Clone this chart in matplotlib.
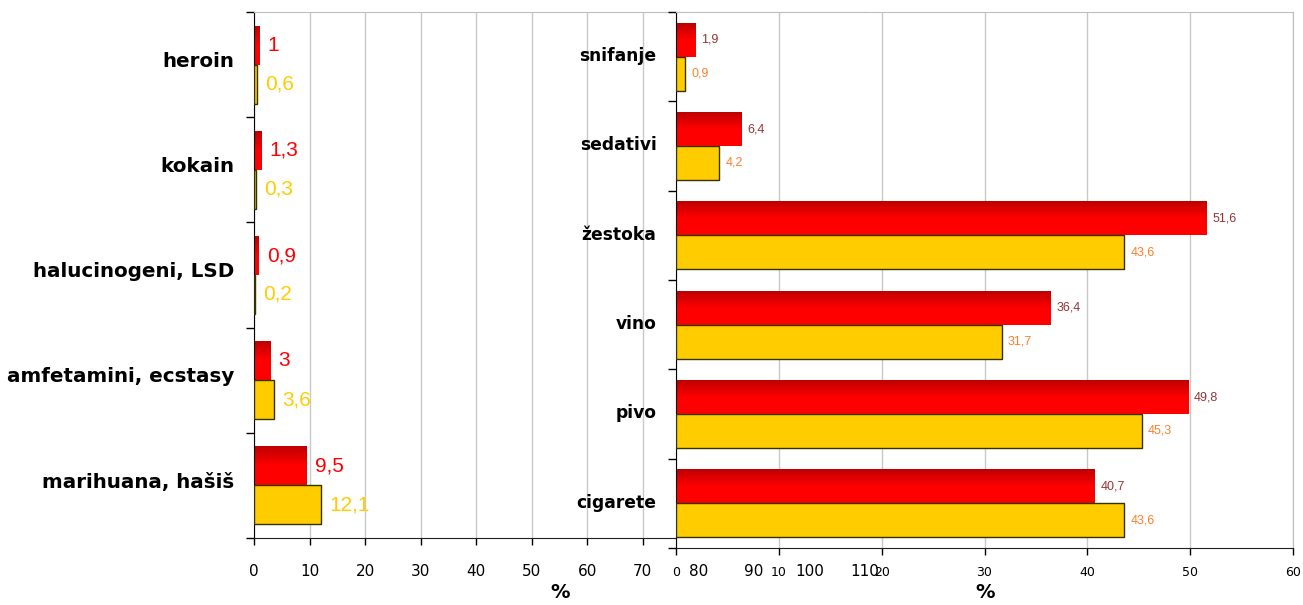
import numpy as np
import matplotlib
matplotlib.use("Agg")
import matplotlib.pyplot as plt
from matplotlib.colors import LinearSegmentedColormap

# left chart: drugs
drug_cats = ["heroin", "kokain", "halucinogeni, LSD", "amfetamini, ecstasy", "marihuana, hašiš"]
drug_red = [1, 1.3, 0.9, 3, 9.5]
drug_yellow = [0.6, 0.3, 0.2, 3.6, 12.1]

# right chart: legal substances
legal_cats = ["snifanje", "sedativi", "žestoka", "vino", "pivo", "cigarete"]
legal_red = [1.9, 6.4, 51.6, 36.4, 49.8, 40.7]
legal_yellow = [0.9, 4.2, 43.6, 31.7, 45.3, 43.6]

left_ticks = list(range(0, 111, 10))
right_ticks = list(range(0, 61, 10))

RED_TOP = "#BE0000"
RED = "#FF0000"
YELLOW = "#FFCC00"
YEDGE = "#333300"
GRID = "#C8C8C8"

red_cmap = LinearSegmentedColormap.from_list("redgrad", [(0, RED_TOP), (0.5, RED), (1, RED)])

W, H = 1303, 605
fig = plt.figure(figsize=(W / 100, H / 100), dpi=100)
plt.rcParams['font.family'] = ['DejaVu Sans']


def fmt(v):
    return f"{v:g}".replace(".", ",")


def gradient_bars(ax, bars):
    grad = np.linspace(0, 1, 100).reshape(-1, 1)
    for b in bars:
        x0, y0 = b.get_x(), b.get_y()
        w, h = b.get_width(), b.get_height()
        im = ax.imshow(grad, extent=[x0, x0 + w, y0 + h, y0], origin="upper",
                       aspect="auto", cmap=red_cmap, zorder=2, interpolation="bilinear")
        im.set_clip_path(b)


def draw(ax, cats, red, yellow, xmax, ticks, h, lab_size, lab_cols, lab_off,
         cat_size, tick_size, tick_pad, cat_shift):
    n = len(cats)
    y = np.arange(n)
    rb = ax.barh(y - h / 2, red, height=h, color=RED, edgecolor="none", zorder=2)
    ax.barh(y + h / 2, yellow, height=h, color=YELLOW, edgecolor=YEDGE, linewidth=1, zorder=3)
    gradient_bars(ax, rb)
    ax.set_xlim(0, xmax)
    ax.set_ylim(n - 0.5, -0.5)
    for i in range(n):
        ax.annotate(fmt(red[i]), (red[i], y[i] - h / 2), xytext=(lab_off, 0),
                    textcoords="offset pixels", va="center", ha="left",
                    color=lab_cols[0], fontsize=lab_size, family="Liberation Sans", zorder=5)
        ax.annotate(fmt(yellow[i]), (yellow[i], y[i] + h / 2), xytext=(lab_off, 0),
                    textcoords="offset pixels", va="center", ha="left",
                    color=lab_cols[1], fontsize=lab_size, family="Liberation Sans", zorder=5)
    ax.set_xticks(ticks)
    ax.set_xticklabels([str(t) for t in ticks], fontsize=tick_size)
    ax.tick_params(axis="x", direction="out", length=5, width=1, pad=tick_pad, colors="black")
    ax.set_yticks(np.arange(n + 1) - 0.5)
    ax.set_yticklabels([])
    ax.set_yticks(y - cat_shift, minor=True)
    ax.set_yticklabels(cats, minor=True, fontsize=cat_size, fontweight="bold")
    ax.tick_params(axis="y", which="major", direction="out", length=6, width=1)
    ax.tick_params(axis="y", which="minor", length=0, pad=14)
    ax.grid(axis="x", color=GRID, linewidth=1, zorder=0)
    ax.set_axisbelow(True)
    ax.spines["left"].set_color("black")
    ax.spines["bottom"].set_color("#202020")
    ax.spines["top"].set_color("#BFBFBF")
    ax.spines["right"].set_color("#BFBFBF")


axl = fig.add_axes([254 / W, 1 - 538 / H, (865 - 254) / W, (538 - 12) / H])
draw(axl, drug_cats, drug_red, drug_yellow, 110, left_ticks, 0.37, 15,
     (RED, YELLOW), 8, 14.3, 11, 14, 0.05)

axr = fig.add_axes([676 / W, 1 - 548 / H, (1293 - 676) / W, (548 - 12) / H])
axr.set_facecolor("white")
draw(axr, legal_cats, legal_red, legal_yellow, 60, right_ticks, 0.38, 9,
     ("#993333", "#FF7F27"), 6, 12.3, 9, 8, 0.03)

fig.text(560 / W, 1 - 593 / H, "%", ha="center", va="center", fontsize=14, fontweight="bold")
fig.text(985 / W, 1 - 593 / H, "%", ha="center", va="center", fontsize=14, fontweight="bold")

fig.savefig("out.png", dpi=100)
